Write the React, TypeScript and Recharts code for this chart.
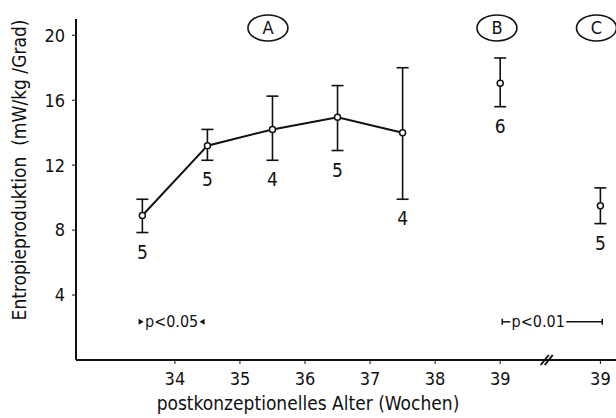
import {
  ComposedChart,
  ErrorBar,
  Line,
  ReferenceDot,
  Scatter,
  XAxis,
  YAxis,
} from "recharts";

// group A: postconceptional age, mean, SD range, n
const ageA = [33.5, 34.5, 35.5, 36.5, 37.5];
const meanA = [8.9, 13.2, 14.2, 14.95, 14.0];
const lowA = [7.85, 12.3, 12.3, 12.9, 9.9];
const highA = [9.9, 14.2, 16.25, 16.9, 18.0];
const nA = [5, 5, 4, 5, 4];

// groups B and C (single points, both 39 weeks)
const ageBC = [39, 40.54];
const meanBC = [17.05, 9.5];
const lowBC = [15.6, 8.4];
const highBC = [18.6, 10.6];
const nBC = [6, 5];

const xTicks = [34, 35, 36, 37, 38, 39, 40.54];
const xTickLabels = ["34", "35", "36", "37", "38", "39", "39"];
const yTicks = [4, 8, 12, 16, 20];

const groupNames = ["A", "B", "C"];
const groupX = [35.43, 38.95, 40.48];

const INK = "#111";
const FONT = "'DejaVu Sans Condensed', 'Liberation Sans Narrow', sans-serif";

const toRows = (age: number[], mean: number[], low: number[], high: number[], n: number[]) =>
  age.map((a, i) => ({
    age: a,
    mean: mean[i],
    low: low[i],
    n: n[i],
    err: [mean[i] - low[i], high[i] - mean[i]],
  }));

const dataA = toRows(ageA, meanA, lowA, highA, nA);
const dataBC = toRows(ageBC, meanBC, lowBC, highBC, nBC);
const nLabels = [...dataA, ...dataBC].map((d) => ({ age: d.age, y: d.low, n: d.n }));

const openDot = (props: any) => (
  <circle cx={props.cx} cy={props.cy} r={3} fill="#fff" stroke={INK} strokeWidth={1.5} />
);

const nText = (props: any) => (
  <text x={props.cx} y={props.cy + 26} textAnchor="middle" fontSize={19} fill={INK} fontFamily={FONT}>
    {props.payload.n}
  </text>
);

const groupBadge = (name: string) => (props: any) => (
  <g>
    <ellipse cx={props.cx} cy={props.cy} rx={20} ry={13} fill="none" stroke={INK} strokeWidth={1.6} />
    <text x={props.cx} y={props.cy + 6.5} textAnchor="middle" fontSize={18} fill={INK} fontFamily={FONT}>
      {name}
    </text>
  </g>
);

const pLow = (props: any) => (
  <g fill={INK}>
    <polygon points={`${props.cx - 33},${props.cy - 3} ${props.cx - 28},${props.cy} ${props.cx - 33},${props.cy + 3}`} />
    <text x={props.cx} y={props.cy + 5.5} textAnchor="middle" fontSize={16} fontFamily={FONT}>
      p&lt;0.05
    </text>
    <polygon points={`${props.cx + 33},${props.cy - 3} ${props.cx + 28},${props.cy} ${props.cx + 33},${props.cy + 3}`} />
  </g>
);

const pHigh = (props: any) => (
  <g stroke={INK} strokeWidth={1.5}>
    <line x1={props.cx - 50} y1={props.cy} x2={props.cx - 42} y2={props.cy} />
    <line x1={props.cx - 50} y1={props.cy - 3} x2={props.cx - 50} y2={props.cy + 3} />
    <text x={props.cx - 14} y={props.cy + 5.5} textAnchor="middle" fontSize={16} fontFamily={FONT} stroke="none" fill={INK}>
      p&lt;0.01
    </text>
    <line x1={props.cx + 14} y1={props.cy} x2={props.cx + 50} y2={props.cy} />
    <line x1={props.cx + 50} y1={props.cy - 3} x2={props.cx + 50} y2={props.cy + 3} />
  </g>
);

const axisBreak = (props: any) => (
  <g stroke={INK} strokeWidth={2}>
    <line x1={props.cx - 5} y1={props.cy + 5} x2={props.cx + 3} y2={props.cy - 5} />
    <line x1={props.cx - 1} y1={props.cy + 5} x2={props.cx + 7} y2={props.cy - 5} />
  </g>
);

export default function App() {
  return (
    <div style={{ position: "absolute", left: 0, top: 0, width: 616, height: 418, background: "#fff" }}>
      <ComposedChart
        width={616}
        height={418}
        margin={{ top: 19, right: 0, bottom: 0, left: 0 }}
        style={{ fontFamily: FONT }}
      >
        <XAxis
          dataKey="age"
          type="number"
          domain={[32.48, 40.78]}
          ticks={xTicks}
          tickFormatter={(_v: number, i: number) => xTickLabels[i]}
          allowDataOverflow
          height={58}
          axisLine={{ stroke: INK, strokeWidth: 2 }}
          tickLine={{ stroke: INK }}
          tickSize={4}
          tickMargin={8}
          tick={{ fill: INK, fontSize: 18 }}
          label={() => (
            <text x={308} y={410} textAnchor="middle" fontSize={19} fill={INK} fontFamily={FONT}>
              postkonzeptionelles Alter (Wochen)
            </text>
          )}
        />
        <YAxis
          type="number"
          domain={[0, 21]}
          ticks={yTicks}
          allowDataOverflow
          width={76}
          axisLine={{ stroke: INK, strokeWidth: 2 }}
          tickLine={{ stroke: INK }}
          tickSize={4}
          tickMargin={7}
          tick={{ fill: INK, fontSize: 18 }}
          label={() => (
            <text
              x={26}
              y={170}
              transform="rotate(-90 26 170)"
              textAnchor="middle"
              fontSize={19}
              fill={INK}
              fontFamily={FONT}
            >
              Entropieproduktion{"\u00a0\u00a0"}(mW/kg /Grad)
            </text>
          )}
        />
        <Line
          data={dataA}
          dataKey="mean"
          stroke={INK}
          strokeWidth={2}
          dot={openDot}
          activeDot={false}
          isAnimationActive={false}
        >
          <ErrorBar dataKey="err" width={6} stroke={INK} strokeWidth={1.6} />
        </Line>
        <Scatter data={dataBC} dataKey="mean" shape={openDot} isAnimationActive={false}>
          <ErrorBar dataKey="err" width={6} stroke={INK} strokeWidth={1.6} direction="y" />
        </Scatter>
        <Scatter data={nLabels} dataKey="y" shape={nText} isAnimationActive={false} />
        {groupNames.map((g, i) => (
          <ReferenceDot key={g} x={groupX[i]} y={20.45} ifOverflow="visible" shape={groupBadge(g)} />
        ))}
        <ReferenceDot x={33.95} y={2.35} ifOverflow="visible" shape={pLow} />
        <ReferenceDot x={39.8} y={2.35} ifOverflow="visible" shape={pHigh} />
        <ReferenceDot x={39.7} y={0} ifOverflow="visible" shape={axisBreak} />
      </ComposedChart>
    </div>
  );
}
